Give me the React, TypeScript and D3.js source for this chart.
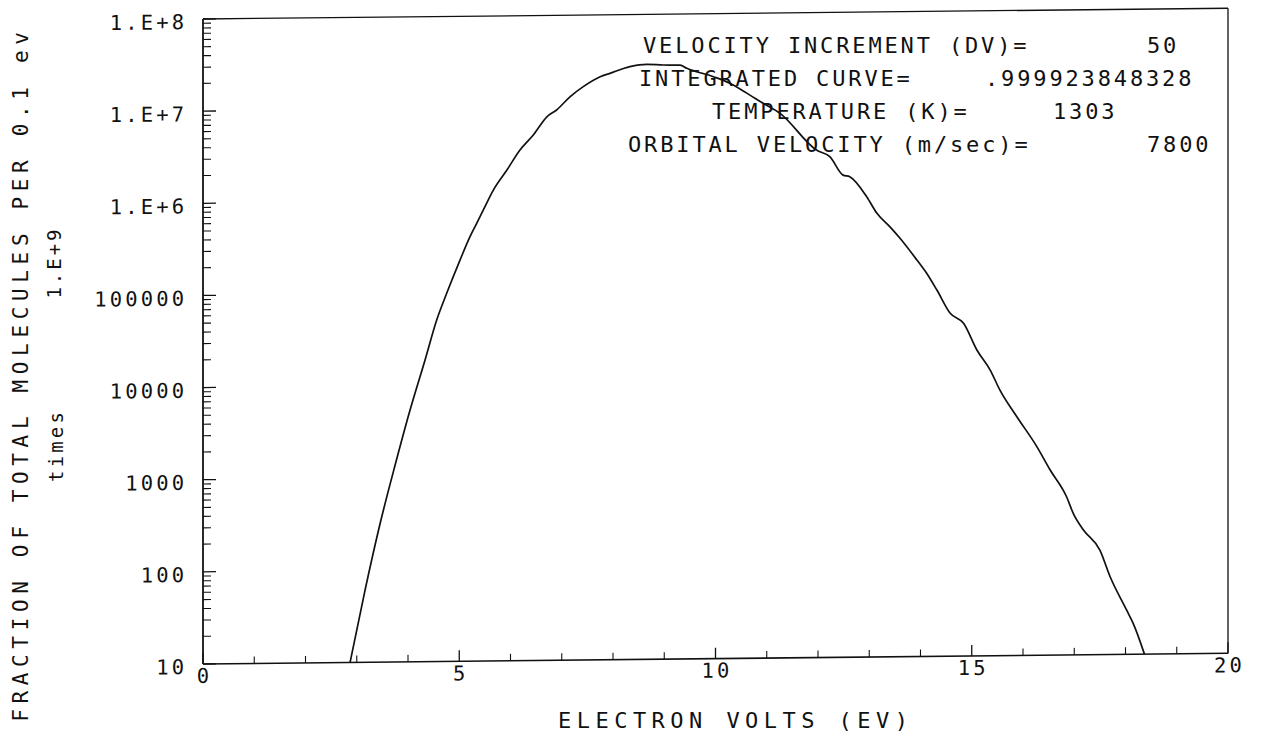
import React from "react";
import * as d3 from "d3";

// Energy distribution of molecules (electron volts vs fraction per 0.1 eV, times 1.E+9)
const ENERGY_EV = [
  2.87, 3.16, 3.45, 3.75, 4.04, 4.33, 4.56, 4.755, 5.015, 5.21, 5.34, 5.47, 5.665, 5.93, 6.185, 6.445,
  6.71, 6.9, 7.16, 7.42, 7.75, 7.94, 8.33, 8.66, 8.98, 9.31, 9.44, 9.96, 10.28, 10.61, 10.93, 11.26,
  11.97, 12.23, 12.49, 12.62, 12.95, 13.15, 13.4, 13.6, 13.93, 14.12, 14.32, 14.58, 14.84, 15.1, 15.36,
  15.55, 15.88, 16.27, 16.53, 16.85, 16.98, 17.18, 17.5, 17.7, 18.02, 18.15, 18.37,
];
const FRACTION = [
  10, 60, 310, 1380, 5400, 18600, 50900, 98900, 226000, 405000, 564000, 787000, 1290000, 2120000,
  3480000, 5050000, 7940000, 9380000, 13000000, 16700000, 21300000, 23100000, 27200000, 28700000,
  28100000, 27900000, 25700000, 20700000, 17500000, 13600000, 10500000, 8130000, 3220000, 2720000,
  1710000, 1640000, 991000, 652000, 466000, 348000, 201000, 144000, 94400, 52600, 40800, 20900, 12600,
  7620, 3900, 1840, 1020, 521, 344, 226, 136, 69.8, 30.3, 21.6, 10,
];

const Y_TICK_VALUES = [10, 100, 1000, 10000, 100000, 1e6, 1e7, 1e8];
const Y_TICK_LABELS = ["10", "100", "1000", "10000", "100000", "1.E+6", "1.E+7", "1.E+8"];
const X_TICK_VALUES = [0, 5, 10, 15, 20];
const X_TICK_LABELS = ["0", "5", "10", "15", "20"];

const INFO_LABELS = [
  "VELOCITY INCREMENT (DV)=",
  "INTEGRATED CURVE=",
  "TEMPERATURE (K)=",
  "ORBITAL VELOCITY (m/sec)=",
];
const INFO_VALUES = ["50", ".999923848328", "1303", "7800"];

const X_TITLE = "ELECTRON VOLTS (EV)";
const Y_TITLE = "FRACTION OF TOTAL MOLECULES PER 0.1 ev";
const Y_SCALE_NOTE = "1.E+9";
const Y_TIMES = "times";

const W = 1265;
const H = 737;
const LEFT = 203;
const RIGHT = 1228;
const TOP = 19;
const BOTTOM = 664;

const FONT = "'DejaVu Sans Mono', 'Liberation Mono', monospace";
const ADV = 0.602; // glyph advance of the mono font, in em

// Fixed-pitch text like a pen plotter: total length set from a character pitch.
function PlotText(props: {
  x: number;
  y: number;
  text: string;
  size: number;
  pitch: number;
  anchor?: "start" | "middle" | "end";
  rotate?: number;
}) {
  const { x, y, text, size, pitch, anchor = "start", rotate } = props;
  const len = (text.length - 1) * pitch + ADV * size;
  return (
    <text
      x={x}
      y={y}
      fontFamily={FONT}
      fontSize={size}
      textAnchor={anchor}
      textLength={len}
      lengthAdjust="spacing"
      fill="#111"
      transform={rotate ? `rotate(${rotate} ${x} ${y})` : undefined}
    >
      {text}
    </text>
  );
}

export default function App() {
  const x = d3.scaleLinear().domain([0, 20]).range([LEFT, RIGHT]);
  const y = d3.scaleLog().domain([10, 1e8]).range([BOTTOM, TOP]);

  const pts: [number, number][] = ENERGY_EV.map((e, i) => [e, FRACTION[i]]);
  const line = d3
    .line<[number, number]>()
    .x((d) => x(d[0]))
    .y((d) => y(d[1]))
    .curve(d3.curveMonotoneX);

  // minor log ticks 2..9 in every decade
  const minorY: number[] = [];
  for (let p = 1; p < 8; p++) {
    for (let m = 2; m <= 9; m++) minorY.push(m * Math.pow(10, p));
  }
  const minorX = d3.range(1, 20).filter((v) => v % 5 !== 0);

  return (
    <svg
      width={W}
      height={H}
      style={{ position: "absolute", left: 0, top: 0, background: "#fff" }}
    >
      <rect x={0} y={0} width={W} height={H} fill="#fff" />
      {/* plot frame, axes and curve, slightly sheared like the plotted sheet */}
      <g transform={`translate(0, ${0.01047 * LEFT}) skewY(-0.6)`}>
        <line x1={LEFT} y1={TOP} x2={RIGHT} y2={TOP} stroke="#111" strokeWidth={1.3} />
        <line x1={RIGHT} y1={TOP} x2={RIGHT} y2={BOTTOM} stroke="#111" strokeWidth={1.3} />
        <line x1={LEFT} y1={TOP} x2={LEFT} y2={BOTTOM} stroke="#111" strokeWidth={1.8} />
        <line x1={LEFT} y1={BOTTOM} x2={RIGHT} y2={BOTTOM} stroke="#111" strokeWidth={1.6} />

        {Y_TICK_VALUES.map((v) => (
          <line key={"ym" + v} x1={LEFT} x2={LEFT + 13} y1={y(v)} y2={y(v)} stroke="#111" strokeWidth={1.3} />
        ))}
        {minorY.map((v) => (
          <line key={"yn" + v} x1={LEFT} x2={LEFT + 8} y1={y(v)} y2={y(v)} stroke="#111" strokeWidth={1.1} />
        ))}
        {X_TICK_VALUES.map((v) => (
          <line key={"xm" + v} x1={x(v)} x2={x(v)} y1={BOTTOM} y2={BOTTOM - 11} stroke="#111" strokeWidth={1.3} />
        ))}
        {minorX.map((v) => (
          <line key={"xn" + v} x1={x(v)} x2={x(v)} y1={BOTTOM} y2={BOTTOM - 7} stroke="#111" strokeWidth={1.1} />
        ))}

        {Y_TICK_VALUES.map((v, i) => (
          <PlotText key={"yl" + v} x={184} y={y(v) + 10} text={Y_TICK_LABELS[i]} size={20.5} pitch={15.5} anchor="end" />
        ))}
        {X_TICK_VALUES.map((v, i) => (
          <PlotText key={"xl" + v} x={x(v)} y={BOTTOM + 19} text={X_TICK_LABELS[i]} size={20.5} pitch={15.5} anchor="middle" />
        ))}

        <path d={line(pts) ?? ""} fill="none" stroke="#111" strokeWidth={1.7} strokeLinejoin="round" />
      </g>

      {/* run parameters */}
      <PlotText x={643} y={53} text={INFO_LABELS[0]} size={22} pitch={16.1} />
      <PlotText x={1147} y={53} text={INFO_VALUES[0]} size={22} pitch={16.1} />
      <PlotText x={639} y={86} text={INFO_LABELS[1]} size={22} pitch={16.1} />
      <PlotText x={985} y={86} text={INFO_VALUES[1]} size={22} pitch={16.1} />
      <PlotText x={712} y={119} text={INFO_LABELS[2]} size={22} pitch={16.1} />
      <PlotText x={1053} y={119} text={INFO_VALUES[2]} size={22} pitch={16.1} />
      <PlotText x={628} y={152} text={INFO_LABELS[3]} size={22} pitch={16.1} />
      <PlotText x={1147} y={152} text={INFO_VALUES[3]} size={22} pitch={16.1} />

      {/* axis titles */}
      <PlotText x={733} y={728} text={X_TITLE} size={22} pitch={18.7} anchor="middle" />
      <PlotText x={28} y={377} text={Y_TITLE} size={21} pitch={18.3} anchor="middle" rotate={-90} />
      <PlotText x={61} y={264} text={Y_SCALE_NOTE} size={19} pitch={14.4} anchor="middle" rotate={-90} />
      <PlotText x={63} y={447} text={Y_TIMES} size={19} pitch={14.6} anchor="middle" rotate={-90} />
    </svg>
  );
}
